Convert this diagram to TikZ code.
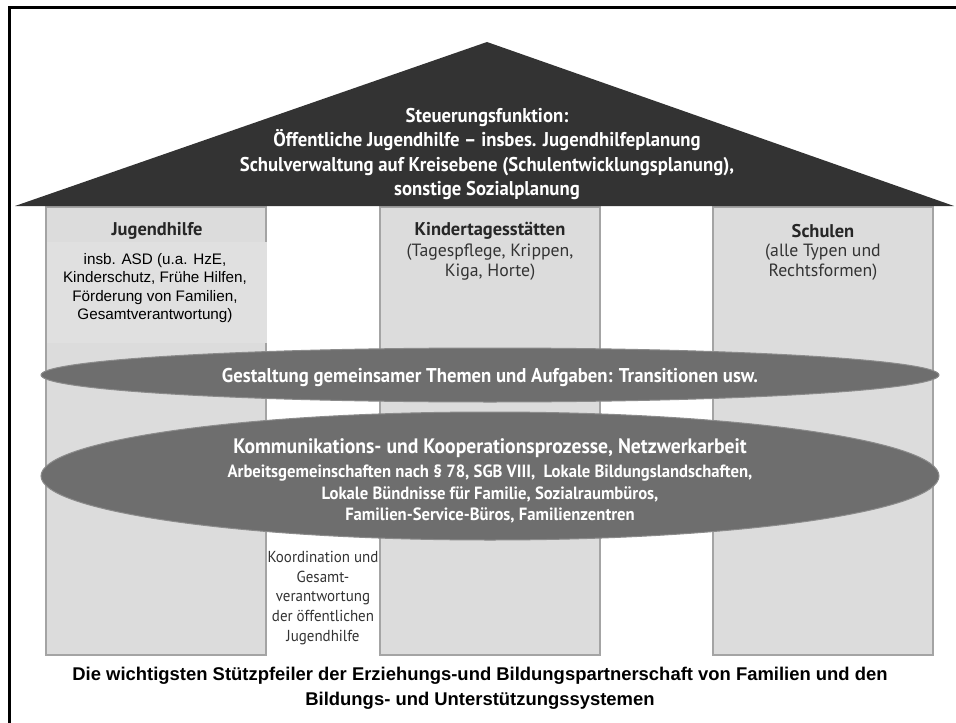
\documentclass[tikz,border=0pt]{standalone}
\usepackage{fontspec}
\setmainfont{PT Sans}
\newfontfamily\condfont[FakeStretch=0.94]{PT Sans}
\newfontfamily\arialfont{Liberation Sans}
\usetikzlibrary{shapes.geometric,positioning}
\definecolor{roofgray}{HTML}{333333}
\definecolor{pillarfill}{HTML}{DCDCDC}
\definecolor{boxfill}{HTML}{E0E0E0}
\definecolor{pillarline}{HTML}{A4A4A4}
\definecolor{ovalgray}{HTML}{6E6E6E}
\definecolor{subtext}{HTML}{333333}
\tikzstyle{pillar} = [rectangle, draw=pillarline, fill=pillarfill, line width=1.2bp,
minimum width=220bp, minimum height=448bp, inner sep=0pt]
\tikzstyle{oval} = [ellipse, draw=ovalgray!80!white, fill=ovalgray, line width=1bp, inner sep=0pt]
\tikzstyle{head} = [font=\bfseries\fontsize{18.5}{21}\selectfont, text=black!85, inner sep=0pt]
\tikzstyle{subhead} = [font=\fontsize{17.8}{20.5}\selectfont, text=subtext, align=center, inner sep=0pt]
\tikzstyle{whitetext} = [font=\condfont\bfseries\fontsize{20}{24.5}\selectfont, text=white, align=center, inner sep=0pt]
\tikzset{>=stealth}

\begin{document}
\begin{tikzpicture}[x=1bp, y=-1bp]
            \useasboundingbox (0,0) rectangle (956,723);
            % frame
            \draw[line width=3bp] (9,723) -- (9,8) -- (956,8);
            % pillars
            \node[pillar] (jh) at (156,431) {};
            \node[pillar] (kita) at (490,431) {};
            \node[pillar] (schule) at (823,431) {};
            \node[fill=boxfill, minimum width=219bp, minimum height=101bp, inner sep=0pt] (jhbox) at (157,292) {};
            % roof
            \fill[roofgray] (15,206) -- (487,42) -- (954,206) -- cycle;
            \node[whitetext] (steuer) at (487,154) {Steuerungsfunktion:\\
            Öffentliche Jugendhilfe – insbes. Jugendhilfeplanung\\
            Schulverwaltung auf Kreisebene (Schulentwicklungsplanung),\\
            sonstige Sozialplanung};
            % pillar labels
            \node[head] (jhhead) at (157,231) {Jugendhilfe};
            \node[font=\arialfont\fontsize{15.3}{18.5}\selectfont, align=center, inner sep=0pt] (jhtext) at (155,288)
            {insb. ASD (u.a. HzE,\\ Kinderschutz, Frühe Hilfen,\\ Förderung von Familien,\\ Gesamtverantwortung)};
            \node[head] (kitahead) at (490,231) {Kindertagesstätten};
            \node[subhead] (kitatext) at (490,262) {(Tagespflege, Krippen,\\ Kiga, Horte)};
            \node[head] (schulehead) at (823,231) {Schulen};
            \node[subhead] (schuletext) at (823,262) {(alle Typen und\\ Rechtsformen)};
            % ovals
            \node[oval, minimum width=898bp, minimum height=54bp] (themen) at (490,375) {};
            \node[whitetext] (themenlabel) at (490,377) {Gestaltung gemeinsamer Themen und Aufgaben: Transitionen usw.};
            \node[oval, minimum width=898bp, minimum height=128bp] (netz) at (490,476) {};
            \node[whitetext, font=\condfont\bfseries\fontsize{21}{24.5}\selectfont] (netzlabel) at (490,448) {Kommunikations- und Kooperationsprozesse, Netzwerkarbeit};
            \node[whitetext, font=\condfont\bfseries\fontsize{17.8}{21.5}\selectfont] (netztext) at (490,494)
            {Arbeitsgemeinschaften nach § 78, SGB VIII,\ \ Lokale Bildungslandschaften,\\
            Lokale Bündnisse für Familie, Sozialraumbüros,\\
            Familien-Service-Büros, Familienzentren};
            % gap text
            \node[font=\condfont\fontsize{16}{20}\selectfont, text=subtext, align=center, inner sep=0pt] (koord) at (323,598)
            {Koordination und\\ Gesamt-\\ verantwortung\\ der öffentlichen\\ Jugendhilfe};
            % caption
            \node[font=\arialfont\bfseries\fontsize{18.5}{25}\selectfont, align=center, inner sep=0pt] (caption) at (480,688)
            {Die wichtigsten Stützpfeiler der Erziehungs-und Bildungspartnerschaft von Familien und den\\
            Bildungs- und Unterstützungssystemen};
        \end{tikzpicture}
\end{document}
